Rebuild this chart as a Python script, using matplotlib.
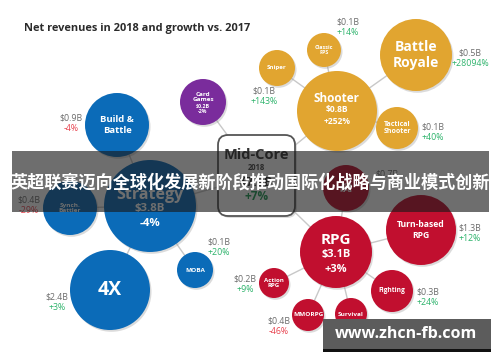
import matplotlib
matplotlib.use("Agg")
import matplotlib.pyplot as plt
from matplotlib.patches import Circle, FancyBboxPatch, Rectangle

plt.rcParams['font.family'] = ['Open Sans', 'DejaVu Sans']

# ---------------- data ----------------
title = "Net revenues in 2018 and growth vs. 2017"
genres = ["Build & Battle", "Card Games", "Synch. Battler", "Strategy", "4X", "MOBA",
          "Sniper", "Classic FPS", "Shooter", "Battle Royale", "Tactical Shooter",
          "Idle RPG", "Turn-based RPG", "RPG", "Action RPG", "MMORPG", "Survival", "Fighting"]
revenue_b = [0.9, 0.2, 0.4, 3.8, 2.4, 0.1,
             0.1, 0.1, 0.8, 0.5, 0.1,
             0.7, 1.3, 3.1, 0.2, 0.4, 0.1, 0.3]
growth_pct = [-4, -2, -29, -4, 3, 20,
              143, 14, 252, 28094, 40,
              None, 12, 3, 9, -46, None, 24]
parent = ["Strategy", "Mid-Core", "Strategy", "Mid-Core", "Strategy", "Strategy",
          "Shooter", "Shooter", "Mid-Core", "Shooter", "Shooter",
          "RPG", "RPG", "Mid-Core", "RPG", "RPG", "RPG", "RPG"]
midcore_revenue_b = 7.9
midcore_growth_pct = 7
midcore_year = "2018"
banner_text = "英超联赛迈向全球化发展新阶段推动国际化战略与商业模式创新"
watermark_text = "www.zhcn-fb.com"

# ---------------- layout (pixels) ----------------
cx = [117, 203, 70, 150, 110, 195, 277, 324, 337, 416, 397, 346, 421, 336, 274, 308, 351, 392]
cy = [125, 102, 208, 206, 290, 270, 68, 50, 111, 55, 128, 188, 230, 252, 283, 315, 314, 291]
cr = [32, 23, 27, 46, 40, 18, 18, 17, 40, 36, 21, 23, 35, 36, 15, 16, 16, 21]
shown = ["Build &\nBattle", "Card\nGames", "Synch.\nBattler", "Strategy", "4X", "MOBA",
         "Sniper", "Classic\nFPS", "Shooter", "Battle\nRoyale", "Tactical\nShooter",
         "Idle\nRPG", "Turn-based\nRPG", "RPG", "Action\nRPG", "MMORPG", "Survival", "Fighting"]
name_size = [6.8, 4.6, 4.6, 11.5, 14, 4.6, 4.4, 4.0, 8.5, 10.0, 5.0, 4.6, 6.2, 11, 4.4, 4.6, 4.6, 4.8]
inner_value = [False, True, False, True, False, False, False, False, True, False, False,
               False, False, True, False, False, False, False]
# vertical offsets (name, value, growth) for circles that hold their value inside
inner_dy = {"Strategy": (-11, 3, 17), "Shooter": (-13, -1, 10), "RPG": (-12, 3, 17)}
# external label anchor (centre of value line); None = inside
lab_x = [71, None, 29, None, 57, 219, 264, 348, None, 470, 433, 387, 470, None, 245, 279, 382, 428]
lab_y = [118, None, 200, None, 297, 242, 91, 22, None, 53, 127, 174, 228, None, 279, 321, 326, 292]

colors = {"Strategy": "#0b6bb8", "Shooter": "#e1a530", "RPG": "#c10f2f"}
card_color = "#7a2c9c"
line_col = "#c8c8c8"
grey_txt = "#6b6b6b"
green = "#2db36b"
redtxt = "#e8434f"


def fmt_rev(v):
    return f"${v:.1f}B"


def fmt_g(g):
    return f"{g:+d}%" if g > 0 else f"{g:d}%"


W, H = 500, 362
fig = plt.figure(figsize=(W / 100, H / 100), dpi=100)
ax = fig.add_axes([0, 0, 1, 1])
ax.set_xlim(0, W)
ax.set_ylim(H, 0)
ax.axis("off")

idx = {g: i for i, g in enumerate(genres)}
box_c = (257.5, 176)

# connector lines
for i, g in enumerate(genres):
    if parent[i] == "Mid-Core":
        px, py = box_c
    else:
        j = idx[parent[i]]
        px, py = cx[j], cy[j]
    ax.plot([cx[i], px], [cy[i], py], color=line_col, lw=1.0, zorder=1)

# mid-core box
ax.add_patch(FancyBboxPatch((220, 137), 77, 81, boxstyle="round,pad=0,rounding_size=10",
                            facecolor="#bbbbbb", edgecolor="none", alpha=0.5, zorder=2))
ax.add_patch(FancyBboxPatch((218, 135), 77, 81, boxstyle="round,pad=0,rounding_size=10",
                            facecolor="white", edgecolor="#555555", lw=1.3, zorder=3))
ax.text(box_c[0] - 1, 155, "Mid-Core", ha="center", va="center", fontsize=10.5,
        fontweight="bold", color="#333333", zorder=4)
ax.text(box_c[0] - 1, 168, midcore_year, ha="center", va="center", fontsize=5.5,
        fontweight="bold", color="#444444", zorder=4)
ax.text(box_c[0] - 1, 182, fmt_rev(midcore_revenue_b), ha="center", va="center", fontsize=9,
        fontweight="bold", color="#333333", zorder=4)
ax.text(box_c[0] - 1, 196, fmt_g(midcore_growth_pct), ha="center", va="center", fontsize=8.5,
        fontweight="bold", color="#1f9a55", zorder=4)

# circles
for i, g in enumerate(genres):
    col = card_color if g == "Card Games" else colors[parent[i] if parent[i] != "Mid-Core" else g]
    ax.add_patch(Circle((cx[i] + 1.5, cy[i] + 1.8), cr[i], facecolor="#999999", alpha=0.35,
                        edgecolor="none", zorder=4))
    ax.add_patch(Circle((cx[i], cy[i]), cr[i], facecolor=col, edgecolor="none", zorder=5))
    if inner_value[i]:
        if g == "Card Games":
            ax.text(cx[i], cy[i] - 5, shown[i], ha="center", va="center", fontsize=name_size[i],
                    color="white", fontweight="bold", zorder=6, linespacing=1.2)
            ax.text(cx[i], cy[i] + 7, fmt_rev(revenue_b[i]) + "\n" + fmt_g(growth_pct[i]),
                    ha="center", va="center", fontsize=3.8, color="white", fontweight="bold",
                    zorder=6, linespacing=1.2)
        else:
            s = name_size[i]
            d1, d2, d3 = inner_dy[g]
            ax.text(cx[i], cy[i] + d1, shown[i], ha="center", va="center", fontsize=s,
                    color="white", fontweight="bold", zorder=6)
            ax.text(cx[i], cy[i] + d2, fmt_rev(revenue_b[i]), ha="center", va="center",
                    fontsize=s * 0.72, color="white", fontweight="bold", zorder=6)
            ax.text(cx[i], cy[i] + d3, fmt_g(growth_pct[i]), ha="center", va="center",
                    fontsize=s * 0.72, color="white", fontweight="bold", zorder=6)
    else:
        ax.text(cx[i], cy[i], shown[i], ha="center", va="center", fontsize=name_size[i],
                color="white", fontweight="bold", zorder=6, linespacing=1.15)
    if lab_x[i] is not None:
        ax.text(lab_x[i], lab_y[i], fmt_rev(revenue_b[i]), ha="center", va="center",
                fontsize=6.3, color=grey_txt, zorder=6)
        if growth_pct[i] is not None:
            ax.text(lab_x[i], lab_y[i] + 10.5, fmt_g(growth_pct[i]), ha="center", va="center",
                    fontsize=6.3, color=green if growth_pct[i] > 0 else redtxt, zorder=6)

# title
ax.text(24, 29, title, ha="left", va="center", fontsize=7.9, fontweight="bold",
        color="#2b2b2b", zorder=6)

# overlay banner
ax.add_patch(Rectangle((12, 151), 477, 61, facecolor="#1a1a1a", alpha=0.63,
                       edgecolor="none", zorder=10))
ax.text(250.5, 183, banner_text, ha="center", va="center", fontsize=12.3, fontweight="bold",
        color="white", family=["Noto Sans CJK SC", "DejaVu Sans"], zorder=11)

# watermark
ax.add_patch(Rectangle((323, 319), 168, 31, facecolor="#5c5c5c", edgecolor="none", zorder=10))
ax.add_patch(Rectangle((323, 349), 168, 3, facecolor="#111111", edgecolor="none", zorder=10))
ax.text(406, 334, watermark_text, ha="center", va="center", fontsize=11.5, fontweight="bold",
        color="white", family=["Open Sans", "DejaVu Sans"], zorder=11)

fig.savefig("out.png", dpi=100)
